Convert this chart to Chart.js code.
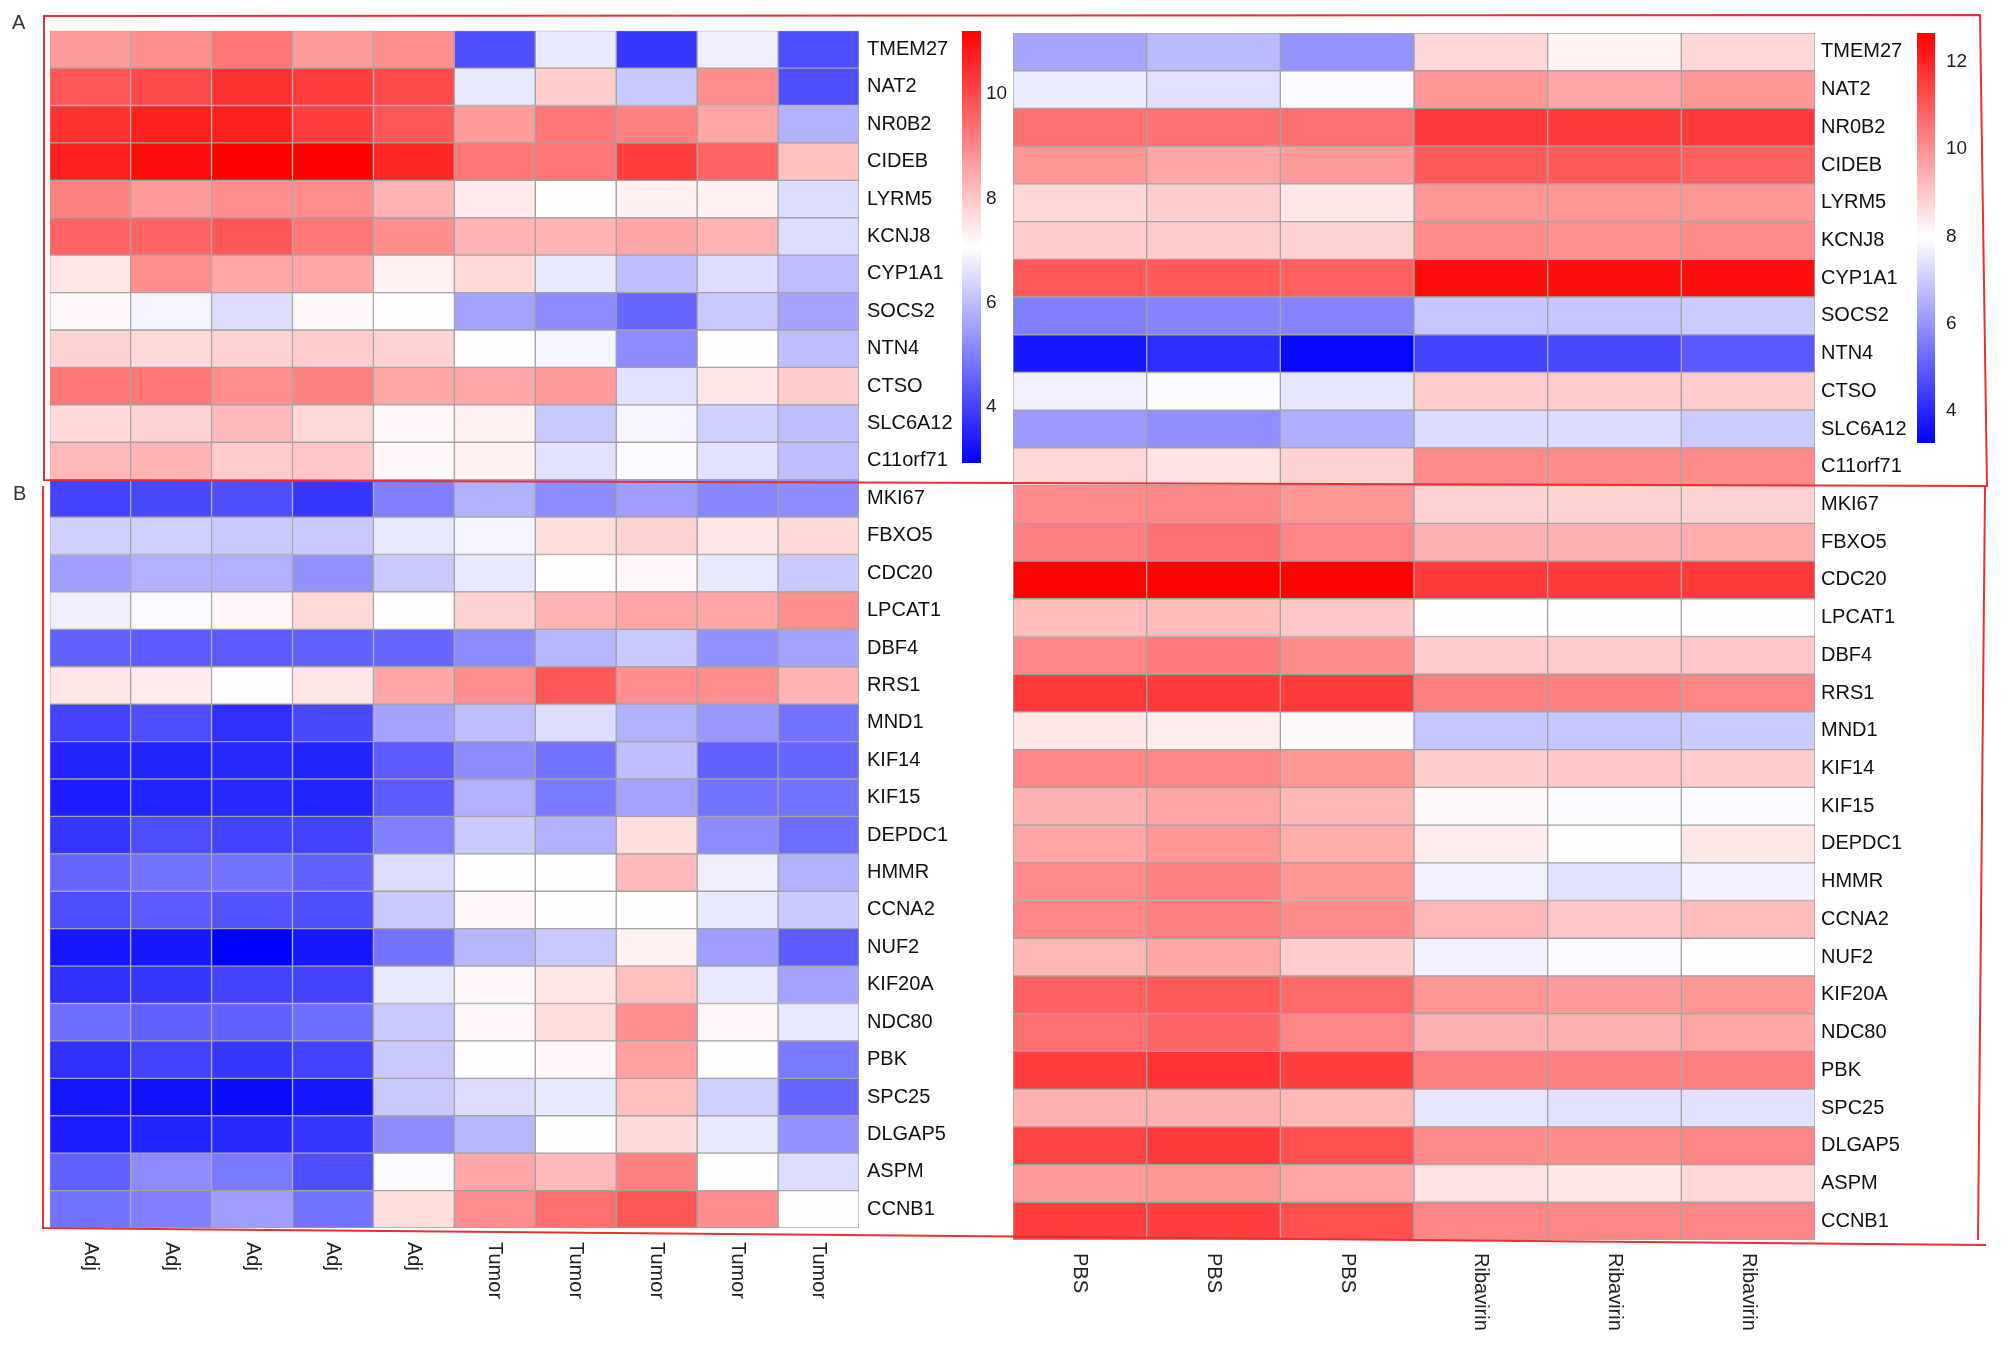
<!DOCTYPE html>
<html>
<head>
<meta charset="utf-8">
<title>Gene expression heatmaps</title>
<script src="https://cdn.jsdelivr.net/npm/chart.js@4.4.1/dist/chart.umd.min.js"></script>
<style>
  html, body { margin: 0; padding: 0; background: #fff; }
  #wrap { position: relative; width: 2008px; height: 1347px; overflow: hidden; background: #fff; }
  #wrap canvas { position: absolute; left: 0; top: 0; }
</style>
</head>
<body>
<div id="wrap">
  <canvas id="leftMap" width="2008" height="1347"></canvas>
  <canvas id="leftBar" width="2008" height="1347"></canvas>
  <canvas id="rightBar" width="2008" height="1347"></canvas>
  <canvas id="rightMap" width="2008" height="1347"></canvas>
</div>
<script>
// Rows: panel A genes first, then panel B genes
const genes = ['TMEM27', 'NAT2', 'NR0B2', 'CIDEB', 'LYRM5', 'KCNJ8', 'CYP1A1', 'SOCS2', 'NTN4', 'CTSO', 'SLC6A12', 'C11orf71',
  'MKI67', 'FBXO5', 'CDC20', 'LPCAT1', 'DBF4', 'RRS1', 'MND1', 'KIF14', 'KIF15', 'DEPDC1', 'HMMR', 'CCNA2', 'NUF2',
  'KIF20A', 'NDC80', 'PBK', 'SPC25', 'DLGAP5', 'ASPM', 'CCNB1'];

const humanSamples = ['Adj', 'Adj', 'Adj', 'Adj', 'Adj', 'Tumor', 'Tumor', 'Tumor', 'Tumor', 'Tumor'];
const mouseSamples = ['PBS', 'PBS', 'PBS', 'Ribavirin', 'Ribavirin', 'Ribavirin'];

// expression values, one row per gene (same order as genes)
const humanValues = [
  [8.7, 8.9, 9.3, 8.7, 8.9, 4.2, 6.7, 3.8, 6.8, 4.2],
  [9.8, 10.0, 10.4, 10.2, 10.0, 6.7, 7.9, 6.2, 8.9, 4.2],
  [10.4, 10.7, 10.7, 10.2, 9.8, 8.7, 9.3, 9.1, 8.5, 5.8],
  [10.7, 11.0, 11.2, 11.2, 10.6, 9.3, 9.3, 10.2, 9.6, 8.1],
  [9.1, 8.7, 8.9, 8.9, 8.3, 7.4, 7.1, 7.3, 7.3, 6.5],
  [9.6, 9.6, 9.8, 9.3, 8.9, 8.3, 8.3, 8.5, 8.3, 6.5],
  [7.5, 8.9, 8.5, 8.5, 7.3, 7.7, 6.7, 6.0, 6.5, 6.0],
  [7.2, 6.9, 6.5, 7.2, 7.1, 5.6, 5.2, 4.6, 6.2, 5.6],
  [7.8, 7.7, 7.8, 7.9, 7.8, 7.1, 6.9, 5.2, 7.1, 6.0],
  [9.3, 9.3, 8.9, 9.1, 8.5, 8.5, 8.7, 6.6, 7.5, 7.9],
  [7.7, 7.8, 8.2, 7.7, 7.2, 7.3, 6.2, 6.9, 6.3, 6.0],
  [8.2, 8.3, 7.9, 8.0, 7.2, 7.3, 6.6, 7.0, 6.6, 6.0],
  [4.0, 4.1, 4.2, 3.8, 5.0, 5.8, 5.2, 5.5, 5.1, 5.2],
  [6.3, 6.3, 6.2, 6.2, 6.7, 6.9, 7.6, 7.8, 7.5, 7.7],
  [5.5, 5.8, 5.8, 5.3, 6.2, 6.7, 7.1, 7.2, 6.7, 6.2],
  [6.8, 7.0, 7.2, 7.7, 7.1, 7.8, 8.3, 8.5, 8.5, 8.9],
  [4.5, 4.4, 4.4, 4.5, 4.6, 5.2, 5.9, 6.2, 5.3, 5.6],
  [7.5, 7.4, 7.1, 7.5, 8.5, 8.9, 9.8, 8.9, 8.9, 8.3],
  [4.0, 4.2, 3.7, 4.1, 5.6, 6.0, 6.5, 5.8, 5.4, 4.8],
  [3.5, 3.5, 3.6, 3.5, 4.4, 5.2, 4.8, 6.0, 4.5, 4.6],
  [3.4, 3.5, 3.6, 3.5, 4.4, 5.8, 4.9, 5.6, 4.8, 4.8],
  [3.8, 4.2, 4.0, 4.0, 5.0, 6.2, 5.8, 7.6, 5.2, 4.7],
  [4.6, 4.8, 4.8, 4.5, 6.5, 7.1, 7.1, 8.2, 6.8, 5.8],
  [4.2, 4.4, 4.3, 4.2, 6.2, 7.2, 7.1, 7.1, 6.7, 6.2],
  [3.3, 3.3, 2.9, 3.3, 4.8, 5.9, 6.2, 7.3, 5.5, 4.4],
  [3.7, 3.8, 4.0, 4.0, 6.7, 7.2, 7.5, 8.1, 6.7, 5.6],
  [4.7, 4.5, 4.5, 4.7, 6.2, 7.2, 7.6, 8.9, 7.2, 6.7],
  [3.7, 4.0, 3.8, 4.0, 6.2, 7.1, 7.2, 8.6, 7.1, 4.9],
  [3.3, 3.2, 3.1, 3.3, 6.2, 6.5, 6.7, 8.1, 6.3, 4.6],
  [3.4, 3.5, 3.6, 3.8, 5.2, 5.9, 7.1, 7.7, 6.7, 5.3],
  [4.5, 5.2, 4.9, 4.2, 7.0, 8.5, 8.2, 9.1, 7.1, 6.5],
  [4.8, 5.0, 5.5, 4.8, 7.6, 8.9, 9.4, 9.8, 8.9, 7.1]
];

const mouseValues = [
  [6.3, 6.7, 6.0, 8.7, 8.2, 8.7],
  [7.6, 7.4, 7.9, 9.9, 9.6, 9.9],
  [10.6, 10.6, 10.6, 11.6, 11.6, 11.6],
  [9.9, 9.6, 9.8, 11.0, 11.0, 10.9],
  [8.7, 8.9, 8.4, 9.9, 9.9, 9.9],
  [8.9, 8.9, 8.8, 10.1, 10.0, 10.1],
  [11.0, 11.0, 10.9, 12.4, 12.4, 12.4],
  [5.6, 5.7, 5.7, 6.9, 6.9, 7.0],
  [3.7, 4.1, 3.4, 4.5, 4.6, 4.9],
  [7.7, 7.9, 7.5, 8.9, 8.9, 8.9],
  [6.1, 5.9, 6.5, 7.3, 7.3, 7.0],
  [8.7, 8.5, 8.8, 10.1, 10.1, 10.1],
  [10.1, 10.2, 9.9, 8.8, 8.8, 8.8],
  [10.3, 10.6, 10.2, 9.4, 9.4, 9.5],
  [12.6, 12.6, 12.6, 11.6, 11.6, 11.6],
  [9.2, 9.2, 9.0, 8.0, 8.0, 8.0],
  [10.2, 10.4, 10.1, 8.9, 8.9, 9.0],
  [11.6, 11.6, 11.6, 10.3, 10.3, 10.2],
  [8.4, 8.3, 8.1, 6.9, 6.9, 7.0],
  [10.2, 10.2, 9.9, 8.9, 9.0, 8.9],
  [9.4, 9.6, 9.3, 8.1, 7.9, 7.9],
  [9.6, 9.9, 9.5, 8.3, 8.0, 8.4],
  [10.1, 10.3, 9.9, 7.7, 7.4, 7.7],
  [10.2, 10.3, 10.1, 9.3, 9.0, 9.2],
  [9.3, 9.6, 8.9, 7.7, 7.9, 8.0],
  [10.9, 11.0, 10.7, 9.9, 9.8, 9.9],
  [10.6, 10.8, 10.2, 9.4, 9.4, 9.6],
  [11.5, 11.7, 11.5, 10.3, 10.3, 10.3],
  [9.4, 9.4, 9.3, 7.5, 7.4, 7.4],
  [11.4, 11.6, 11.2, 10.1, 10.1, 10.2],
  [9.8, 9.9, 9.6, 8.5, 8.4, 8.7],
  [11.5, 11.5, 11.2, 10.2, 10.2, 10.2]
];

// colour scale limits and colour bar tick labels
const humanRange = [2.93, 11.21];
const mouseRange = [3.27, 12.66];
const humanBarTicks = [4, 6, 8, 10];
const mouseBarTicks = [4, 6, 8, 10, 12];

const W = 2008, H = 1347;
const FONT = "'Liberation Sans', Arial, Helvetica, sans-serif";
Chart.defaults.font.family = FONT;

// blue - white - red ramp
function heatColor(v, range) {
    let t = (v - range[0]) / (range[1] - range[0]);
    t = Math.max(0, Math.min(1, t));
    if (t < 0.5) {
        const s = Math.round(255 * t / 0.5);
        return `rgb(${s},${s},255)`;
    }
    const s = Math.round(255 * (1 - (t - 0.5) / 0.5));
    return `rgb(255,${s},${s})`;
}

// Rotated sample names under each heatmap
const sampleLabels = {
    id: 'sampleLabels',
    afterDraw(chart, args, opts) {
        const { ctx, chartArea, scales } = chart;
        ctx.save();
        ctx.font = '20px ' + FONT;
        ctx.fillStyle = '#222';
        ctx.textAlign = 'left';
        ctx.textBaseline = 'middle';
        opts.labels.forEach((lab, i) => {
            const x = scales.x.getPixelForValue(i + 0.5);
            ctx.save();
            ctx.translate(x, chartArea.bottom + opts.gap);
            ctx.rotate(Math.PI / 2);
            ctx.fillText(lab, 0, 0);
            ctx.restore();
        });
        ctx.restore();
    }
};

// Red panel frames and the A / B letters
const frames = {
    id: 'frames',
    afterDraw(chart) {
        const ctx = chart.ctx;
        ctx.save();
        ctx.strokeStyle = 'rgb(232,48,48)';
        ctx.lineWidth = 2;
        ctx.beginPath();
        ctx.moveTo(44, 16);
        ctx.lineTo(1980, 15);
        ctx.lineTo(1987, 486);
        ctx.lineTo(44, 480);
        ctx.closePath();
        ctx.stroke();
        ctx.beginPath();
        ctx.moveTo(43, 486);
        ctx.lineTo(43, 1228);
        ctx.lineTo(1986, 1245);
        ctx.moveTo(1978, 1240);
        ctx.lineTo(1985, 487);
        ctx.stroke();
        ctx.fillStyle = '#333';
        ctx.font = '20px ' + FONT;
        ctx.textBaseline = 'middle';
        ctx.fillText('A', 12, 23);
        ctx.fillText('B', 13, 494);
        ctx.restore();
    }
};

function makeHeatmap(id, samples, values, range, box, labelGap, extraPlugins) {
    const axisW = 110;
    const datasets = samples.map((s, c) => ({
        label: s,
        data: genes.map(() => 1),
        backgroundColor: values.map(row => heatColor(row[c], range)),
        borderColor: '#a3a3a3',
        borderWidth: 1,
        borderSkipped: false,
        barPercentage: 1,
        categoryPercentage: 1
    }));
    return new Chart(document.getElementById(id), {
        type: 'bar',
        data: { labels: genes, datasets: datasets },
        options: {
            indexAxis: 'y',
            responsive: false,
            animation: false,
            events: [],
            layout: {
                padding: { left: box.left, top: box.top, bottom: H - box.bottom, right: W - box.right - axisW }
            },
            plugins: {
                legend: { display: false },
                tooltip: { enabled: false },
                sampleLabels: { labels: samples, gap: box.labelGap }
            },
            scales: {
                x: { type: 'linear', stacked: true, min: 0, max: samples.length, display: false },
                y: {
                    stacked: true,
                    position: 'right',
                    grid: { display: false, drawTicks: false },
                    border: { display: false },
                    ticks: { color: '#111', font: { size: 20 }, padding: labelGap, autoSkip: false },
                    afterFit: s => { s.width = axisW; }
                }
            }
        },
        plugins: [sampleLabels].concat(extraPlugins || [])
    });
}

function makeColorbar(id, range, ticks, box, gap) {
    const axisW = 40;
    return new Chart(document.getElementById(id), {
        type: 'bar',
        data: {
            labels: ['scale'],
            datasets: [{
                data: [range],
                backgroundColor: ctx => {
                    const a = ctx.chart.chartArea;
                    if (!a) return '#fff';
                    const g = ctx.chart.ctx.createLinearGradient(0, a.bottom, 0, a.top);
                    g.addColorStop(0, 'rgb(0,0,255)');
                    g.addColorStop(0.5, 'rgb(255,255,255)');
                    g.addColorStop(1, 'rgb(255,0,0)');
                    return g;
                },
                borderWidth: 0,
                barPercentage: 1,
                categoryPercentage: 1
            }]
        },
        options: {
            responsive: false,
            animation: false,
            events: [],
            layout: {
                padding: { left: box.left, top: box.top, bottom: H - box.bottom, right: W - box.right - axisW }
            },
            plugins: { legend: { display: false }, tooltip: { enabled: false } },
            scales: {
                x: { display: false },
                y: {
                    min: range[0],
                    max: range[1],
                    position: 'right',
                    grid: { display: false, drawTicks: false },
                    border: { display: false },
                    afterBuildTicks: s => { s.ticks = ticks.map(v => ({ value: v })); },
                    ticks: { color: '#222', font: { size: 19 }, padding: gap },
                    afterFit: s => { s.width = axisW; }
                }
            }
        }
    });
}

makeHeatmap('leftMap', humanSamples, humanValues, humanRange,
    { left: 49.7, right: 859, top: 30.7, bottom: 1228, labelGap: 14 }, 8);
makeColorbar('leftBar', humanRange, humanBarTicks, { left: 962, right: 981, top: 31, bottom: 463 }, 5);
makeColorbar('rightBar', mouseRange, mouseBarTicks, { left: 1917, right: 1935, top: 33, bottom: 443 }, 11);
makeHeatmap('rightMap', mouseSamples, mouseValues, mouseRange,
    { left: 1013, right: 1815, top: 33, bottom: 1240, labelGap: 13 }, 6, [frames]);
</script>
</body>
</html>
